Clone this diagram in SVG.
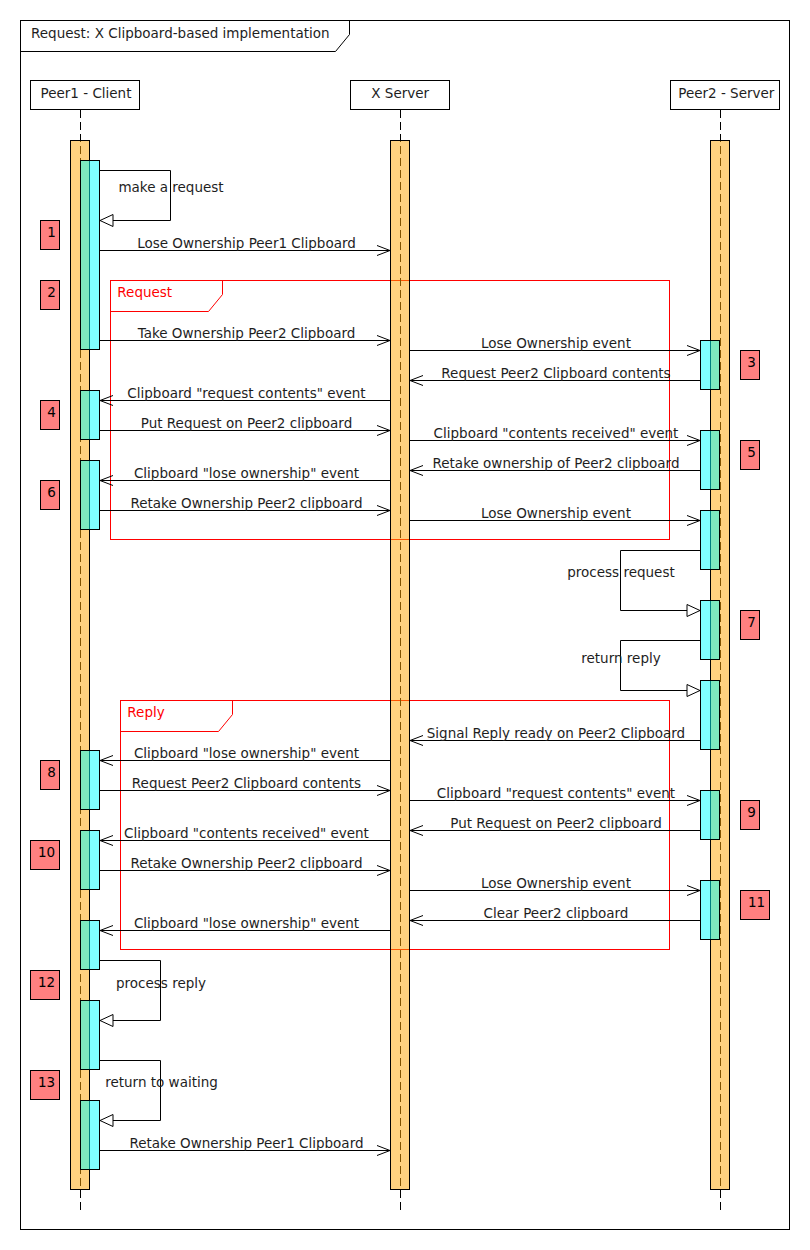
<svg xmlns="http://www.w3.org/2000/svg" width="810" height="1250" viewBox="0 0 810 1250">
<style>
text{font-family:"DejaVu Sans","Liberation Sans",sans-serif;font-size:13.5px;fill:#1e1e1e}
.lbl{text-anchor:middle}
.frame{fill:none;stroke:#000;stroke-width:1}
.frag{fill:none;stroke:#ff0000;stroke-width:1}
.fragt{fill:#ff0000}
.life{stroke:#000;stroke-width:1;stroke-dasharray:8,4;fill:none}
.bar{fill:#ffa500;fill-opacity:0.5;stroke:#000;stroke-width:1}
.act{fill:#00ffff;fill-opacity:0.5;stroke:#000;stroke-width:1}
.part{fill:#fff;stroke:#000;stroke-width:1}
.msg{stroke:#000;stroke-width:1;fill:none;marker-end:url(#open)}
.self{stroke:#000;stroke-width:1;fill:none;marker-end:url(#tri)}
.num{fill:#ff8080;stroke:#000;stroke-width:1}
.numt{text-anchor:middle;fill:#000}
</style>
<defs>
<marker id="open" viewBox="-14 -6 15 12" refX="0" refY="0" markerWidth="15" markerHeight="12" markerUnits="userSpaceOnUse" orient="auto">
<path d="M-13,-5 L0,0 L-13,5" fill="none" stroke="#000" stroke-width="1"/>
</marker>
<marker id="tri" viewBox="-14 -7 15 14" refX="0" refY="0" markerWidth="15" markerHeight="14" markerUnits="userSpaceOnUse" orient="auto">
<path d="M-13,-6 L0,0 L-13,6 Z" fill="#fff" stroke="#000" stroke-width="1"/>
</marker>
</defs>
<rect x="0" y="0" width="810" height="1250" fill="#fff"/>
<g id="frame">
<rect class="frame" x="20.5" y="20.5" width="769" height="1209"/>
<path class="frame" d="M20.5,51.5 H335.5 L349.5,34.5 V20.5"/>
<text x="31" y="37.5">Request: X Clipboard-based implementation</text>
</g>
<g id="fragments">
<g id="frag-request">
<rect class="frag" x="110.5" y="280.5" width="559" height="259"/>
<path class="frag" d="M110.5,311.5 H208.5 L222.5,294.5 V280.5"/>
<text class="fragt" x="117.3" y="297">Request</text>
</g>
<g id="frag-reply">
<rect class="frag" x="120.5" y="700.5" width="549" height="249"/>
<path class="frag" d="M120.5,731.5 H218.5 L232.5,714.5 V700.5"/>
<text class="fragt" x="127.3" y="717">Reply</text>
</g>
</g>
<g id="peer1">
<rect class="part" x="30.5" y="80.5" width="109" height="29"/>
<text x="86" y="97.5" class="lbl">Peer1 - Client</text>
<line class="life" x1="80.5" y1="110" x2="80.5" y2="1210"/>
<rect class="bar" x="70.5" y="140.5" width="19" height="1049"/>
<rect class="act" x="80.5" y="160.5" width="19" height="189"/>
<rect class="act" x="80.5" y="390.5" width="19" height="49"/>
<rect class="act" x="80.5" y="460.5" width="19" height="69"/>
<rect class="act" x="80.5" y="750.5" width="19" height="59"/>
<rect class="act" x="80.5" y="830.5" width="19" height="59"/>
<rect class="act" x="80.5" y="920.5" width="19" height="49"/>
<rect class="act" x="80.5" y="1000.5" width="19" height="69"/>
<rect class="act" x="80.5" y="1100.5" width="19" height="69"/>
</g>
<g id="xserver">
<rect class="part" x="350.5" y="80.5" width="99" height="29"/>
<text x="400.2" y="97.5" class="lbl">X Server</text>
<line class="life" x1="400.5" y1="110" x2="400.5" y2="1210"/>
<rect class="bar" x="390.5" y="140.5" width="19" height="1049"/>
</g>
<g id="peer2">
<rect class="part" x="670.5" y="80.5" width="109" height="29"/>
<text x="726.3" y="97.5" class="lbl">Peer2 - Server</text>
<line class="life" x1="720.5" y1="110" x2="720.5" y2="1210"/>
<rect class="bar" x="710.5" y="140.5" width="19" height="1049"/>
<rect class="act" x="700.5" y="340.5" width="19" height="49"/>
<rect class="act" x="700.5" y="430.5" width="19" height="59"/>
<rect class="act" x="700.5" y="510.5" width="19" height="59"/>
<rect class="act" x="700.5" y="600.5" width="19" height="59"/>
<rect class="act" x="700.5" y="680.5" width="19" height="69"/>
<rect class="act" x="700.5" y="790.5" width="19" height="49"/>
<rect class="act" x="700.5" y="880.5" width="19" height="59"/>
</g>
<g id="connectors">
<polyline class="self" points="100,170.5 170.5,170.5 170.5,220.5 100,220.5"/>
<line class="msg" x1="100" y1="250.5" x2="390" y2="250.5"/>
<line class="msg" x1="100" y1="340.5" x2="390" y2="340.5"/>
<line class="msg" x1="410" y1="350.5" x2="700" y2="350.5"/>
<line class="msg" x1="700" y1="380.5" x2="410" y2="380.5"/>
<line class="msg" x1="390" y1="400.5" x2="100" y2="400.5"/>
<line class="msg" x1="100" y1="430.5" x2="390" y2="430.5"/>
<line class="msg" x1="410" y1="440.5" x2="700" y2="440.5"/>
<line class="msg" x1="700" y1="470.5" x2="410" y2="470.5"/>
<line class="msg" x1="390" y1="480.5" x2="100" y2="480.5"/>
<line class="msg" x1="100" y1="510.5" x2="390" y2="510.5"/>
<line class="msg" x1="410" y1="520.5" x2="700" y2="520.5"/>
<polyline class="self" points="700,550.5 620.5,550.5 620.5,610.5 700,610.5"/>
<polyline class="self" points="700,640.5 620.5,640.5 620.5,690.5 700,690.5"/>
<line class="msg" x1="700" y1="740.5" x2="410" y2="740.5"/>
<line class="msg" x1="390" y1="760.5" x2="100" y2="760.5"/>
<line class="msg" x1="100" y1="790.5" x2="390" y2="790.5"/>
<line class="msg" x1="410" y1="800.5" x2="700" y2="800.5"/>
<line class="msg" x1="700" y1="830.5" x2="410" y2="830.5"/>
<line class="msg" x1="390" y1="840.5" x2="100" y2="840.5"/>
<line class="msg" x1="100" y1="870.5" x2="390" y2="870.5"/>
<line class="msg" x1="410" y1="890.5" x2="700" y2="890.5"/>
<line class="msg" x1="700" y1="920.5" x2="410" y2="920.5"/>
<line class="msg" x1="390" y1="930.5" x2="100" y2="930.5"/>
<polyline class="self" points="100,960.5 160.5,960.5 160.5,1020.5 100,1020.5"/>
<polyline class="self" points="100,1060.5 160.5,1060.5 160.5,1120.5 100,1120.5"/>
<line class="msg" x1="100" y1="1150.5" x2="390" y2="1150.5"/>
</g>
<g id="labels">
<text class="lbl" x="171" y="192">make a request</text>
<text class="lbl" x="246.5" y="247.5">Lose Ownership Peer1 Clipboard</text>
<text class="lbl" x="246.5" y="337.5">Take Ownership Peer2 Clipboard</text>
<text class="lbl" x="556" y="347.5">Lose Ownership event</text>
<text class="lbl" x="556" y="377.5">Request Peer2 Clipboard contents</text>
<text class="lbl" x="246.5" y="397.5">Clipboard "request contents" event</text>
<text class="lbl" x="246.5" y="427.5">Put Request on Peer2 clipboard</text>
<text class="lbl" x="556" y="437.5">Clipboard "contents received" event</text>
<text class="lbl" x="556" y="467.5">Retake ownership of Peer2 clipboard</text>
<text class="lbl" x="246.5" y="477.5">Clipboard "lose ownership" event</text>
<text class="lbl" x="246.5" y="507.5">Retake Ownership Peer2 clipboard</text>
<text class="lbl" x="556" y="517.5">Lose Ownership event</text>
<text class="lbl" x="621" y="577">process request</text>
<text class="lbl" x="621" y="662.5">return reply</text>
<text class="lbl" x="556" y="737.5">Signal Reply ready on Peer2 Clipboard</text>
<text class="lbl" x="246.5" y="757.5">Clipboard "lose ownership" event</text>
<text class="lbl" x="246.5" y="787.5">Request Peer2 Clipboard contents</text>
<text class="lbl" x="556" y="797.5">Clipboard "request contents" event</text>
<text class="lbl" x="556" y="827.5">Put Request on Peer2 clipboard</text>
<text class="lbl" x="246.5" y="837.5">Clipboard "contents received" event</text>
<text class="lbl" x="246.5" y="867.5">Retake Ownership Peer2 clipboard</text>
<text class="lbl" x="556" y="887.5">Lose Ownership event</text>
<text class="lbl" x="556" y="917.5">Clear Peer2 clipboard</text>
<text class="lbl" x="246.5" y="927.5">Clipboard "lose ownership" event</text>
<text class="lbl" x="161" y="987.5">process reply</text>
<text class="lbl" x="161.5" y="1087">return to waiting</text>
<text class="lbl" x="246.5" y="1147.5">Retake Ownership Peer1 Clipboard</text>
</g>
<g id="steps">
<g id="step1"><rect class="num" x="40.5" y="220.5" width="19" height="29"/><text class="numt" x="51.5" y="237">1</text></g>
<g id="step2"><rect class="num" x="40.5" y="280.5" width="19" height="29"/><text class="numt" x="51.5" y="297">2</text></g>
<g id="step3"><rect class="num" x="740.5" y="350.5" width="19" height="29"/><text class="numt" x="751.5" y="367">3</text></g>
<g id="step4"><rect class="num" x="40.5" y="400.5" width="19" height="29"/><text class="numt" x="51.5" y="417">4</text></g>
<g id="step5"><rect class="num" x="740.5" y="440.5" width="19" height="29"/><text class="numt" x="751.5" y="457">5</text></g>
<g id="step6"><rect class="num" x="40.5" y="480.5" width="19" height="29"/><text class="numt" x="51.5" y="497">6</text></g>
<g id="step7"><rect class="num" x="740.5" y="610.5" width="19" height="29"/><text class="numt" x="751.5" y="627">7</text></g>
<g id="step8"><rect class="num" x="40.5" y="760.5" width="19" height="29"/><text class="numt" x="51.5" y="777">8</text></g>
<g id="step9"><rect class="num" x="740.5" y="800.5" width="19" height="29"/><text class="numt" x="751.5" y="817">9</text></g>
<g id="step10"><rect class="num" x="30.5" y="840.5" width="29" height="29"/><text class="numt" x="46.5" y="857">10</text></g>
<g id="step11"><rect class="num" x="740.5" y="890.5" width="29" height="29"/><text class="numt" x="756.5" y="907">11</text></g>
<g id="step12"><rect class="num" x="30.5" y="970.5" width="29" height="29"/><text class="numt" x="46.5" y="987">12</text></g>
<g id="step13"><rect class="num" x="30.5" y="1070.5" width="29" height="29"/><text class="numt" x="46.5" y="1087">13</text></g>
</g>
</svg>
